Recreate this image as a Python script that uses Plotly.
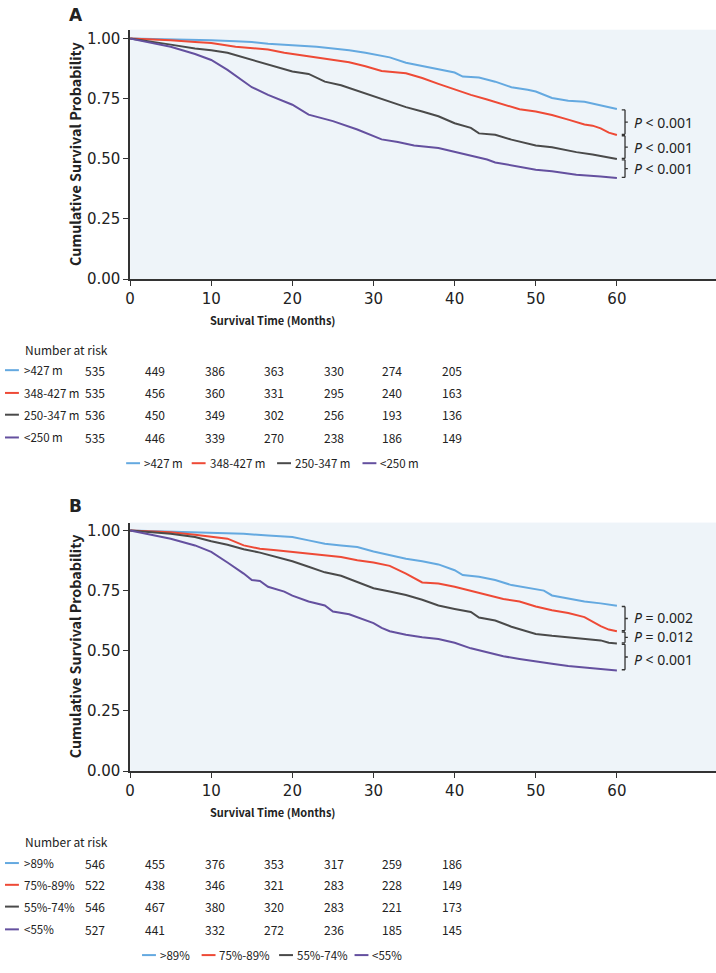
import plotly.graph_objects as go

W, H = 716, 973

# ---------------- data ----------------
# Panel A : 6-minute walk distance groups
A_groups = [">427 m", "348-427 m", "250-347 m", "<250 m"]
A_t_427 = [0, 5, 10, 13, 15, 17, 20, 23, 25, 27, 29, 30, 32, 34, 36, 38, 40, 41, 43, 45, 47, 49, 50, 52, 54, 56, 58, 60]
A_s_427 = [1.0, 0.997, 0.993, 0.989, 0.986, 0.979, 0.973, 0.966, 0.959, 0.952, 0.941, 0.934, 0.922, 0.900, 0.886, 0.870,
           0.859, 0.842, 0.838, 0.821, 0.798, 0.787, 0.780, 0.753, 0.742, 0.737, 0.721, 0.707]
A_t_348 = [0, 3, 5, 8, 10, 13, 15, 17, 19, 21, 23, 25, 27, 29, 30, 31, 34, 36, 38, 40, 42, 44, 46, 48, 50, 52, 54, 56, 57, 58, 59, 60]
A_s_348 = [1.0, 0.996, 0.993, 0.986, 0.982, 0.966, 0.959, 0.955, 0.941, 0.932, 0.921, 0.912, 0.902, 0.885, 0.876, 0.865,
           0.856, 0.836, 0.812, 0.788, 0.766, 0.747, 0.726, 0.706, 0.697, 0.682, 0.663, 0.643, 0.638, 0.627, 0.609, 0.599]
A_t_250 = [0, 3, 5, 8, 10, 12, 14, 16, 18, 20, 22, 24, 26, 28, 30, 32, 34, 36, 38, 40, 42, 43, 45, 47, 50, 52, 55, 57, 60]
A_s_250 = [1.0, 0.986, 0.975, 0.959, 0.952, 0.941, 0.922, 0.900, 0.883, 0.863, 0.853, 0.821, 0.806, 0.784, 0.760, 0.739,
           0.715, 0.697, 0.677, 0.648, 0.629, 0.606, 0.600, 0.580, 0.556, 0.548, 0.528, 0.518, 0.499]
A_t_lt = [0, 3, 5, 8, 10, 12, 14, 15, 17, 20, 22, 25, 28, 30, 31, 33, 35, 38, 40, 42, 44, 45, 47, 50, 52, 55, 58, 60]
A_s_lt = [1.0, 0.981, 0.966, 0.936, 0.911, 0.870, 0.822, 0.798, 0.766, 0.725, 0.684, 0.657, 0.622, 0.595, 0.581, 0.570,
          0.556, 0.545, 0.529, 0.512, 0.497, 0.485, 0.474, 0.455, 0.448, 0.434, 0.427, 0.420]
A_pvals = ["<i>P</i> < 0.001", "<i>P</i> < 0.001", "<i>P</i> < 0.001"]
A_risk = [[535, 449, 386, 363, 330, 274, 205],
          [535, 456, 360, 331, 295, 240, 163],
          [536, 450, 349, 302, 256, 193, 136],
          [535, 446, 339, 270, 238, 186, 149]]

# Panel B : percent-predicted groups
B_groups = [">89%", "75%-89%", "55%-74%", "<55%"]
B_t_89 = [0, 5, 10, 14, 17, 20, 22, 24, 26, 28, 30, 32, 34, 36, 38, 40, 41, 43, 45, 47, 49, 51, 52, 54, 56, 58, 60]
B_s_89 = [1.0, 0.996, 0.990, 0.986, 0.979, 0.973, 0.959, 0.945, 0.938, 0.931, 0.913, 0.897, 0.883, 0.872, 0.859, 0.835,
          0.815, 0.808, 0.794, 0.773, 0.760, 0.750, 0.730, 0.716, 0.705, 0.697, 0.687]
B_t_75 = [0, 3, 5, 8, 10, 12, 14, 16, 18, 20, 22, 24, 26, 28, 30, 32, 34, 36, 38, 40, 42, 44, 46, 48, 50, 52, 54, 56, 58, 59, 60]
B_s_75 = [1.0, 0.996, 0.993, 0.982, 0.973, 0.966, 0.938, 0.924, 0.918, 0.911, 0.904, 0.897, 0.890, 0.876, 0.867, 0.853,
          0.821, 0.784, 0.780, 0.766, 0.749, 0.735, 0.715, 0.705, 0.684, 0.668, 0.657, 0.640, 0.602, 0.588, 0.581]
B_t_55 = [0, 3, 5, 8, 10, 12, 14, 16, 18, 20, 22, 24, 26, 28, 30, 32, 34, 36, 38, 40, 42, 43, 45, 47, 49, 50, 52, 54, 56, 58, 59, 60]
B_s_55 = [1.0, 0.993, 0.986, 0.973, 0.955, 0.941, 0.922, 0.908, 0.890, 0.872, 0.849, 0.826, 0.812, 0.787, 0.760, 0.746,
          0.732, 0.712, 0.688, 0.674, 0.661, 0.638, 0.626, 0.600, 0.581, 0.570, 0.562, 0.556, 0.552, 0.543, 0.533, 0.530]
B_t_lt = [0, 3, 5, 8, 10, 12, 14, 15, 16, 17, 19, 20, 22, 24, 25, 27, 29, 30, 31, 32, 34, 36, 38, 40, 42, 44, 46, 48, 50, 52, 54, 56, 58, 60]
B_s_lt = [1.0, 0.979, 0.966, 0.938, 0.911, 0.867, 0.821, 0.794, 0.790, 0.766, 0.746, 0.729, 0.705, 0.688, 0.663, 0.652,
          0.629, 0.615, 0.595, 0.581, 0.567, 0.556, 0.549, 0.533, 0.510, 0.492, 0.477, 0.466, 0.455, 0.446, 0.437, 0.430,
          0.426, 0.418]
B_pvals = ["<i>P</i> = 0.002", "<i>P</i> = 0.012", "<i>P</i> < 0.001"]
B_risk = [[546, 455, 376, 353, 317, 259, 186],
          [522, 438, 346, 321, 283, 228, 149],
          [546, 467, 380, 320, 283, 221, 173],
          [527, 441, 332, 272, 236, 185, 145]]

x_ticks = [0, 10, 20, 30, 40, 50, 60]
y_ticks = [0, 0.25, 0.5, 0.75, 1.0]
y_ticktext = ["0.00", "0.25", "0.50", "0.75", "1.00"]

colors = ["#64A9E0", "#EE4A36", "#4A4A4A", "#64509F"]

# ---------------- helpers ----------------
def xp(px):
    return px / W


def yp(py):
    return 1 - py / H


TICK_FONT = dict(family="DejaVu Sans, Verdana, sans-serif", size=15, color="#222")
NARROW = "Noto Sans CJK SC, Roboto, sans-serif"
PFONT = "Noto Sans, Open Sans, sans-serif"
TXT = "#222"
TAB_SIZE = 11.5

fig = go.Figure()

panels = [
    dict(xa="x", ya="y", series=[(A_t_427, A_s_427), (A_t_348, A_s_348), (A_t_250, A_s_250), (A_t_lt, A_s_lt)],
         groups=A_groups, pvals=A_pvals, risk=A_risk, top=29, bottom=281, label="A", labely=14,
         xtitle_y=322, nar_y=352, row_y=[373, 396, 418, 441], leg_y=467,
         leg_keys=[122, 188, 274, 360], p_shift=[0, 0, 0]),
    dict(xa="x2", ya="y2", series=[(B_t_89, B_s_89), (B_t_75, B_s_75), (B_t_55, B_s_55), (B_t_lt, B_s_lt)],
         groups=B_groups, pvals=B_pvals, risk=B_risk, top=527, bottom=778, label="B", labely=510,
         xtitle_y=819, nar_y=849, row_y=[871, 893, 915, 938], leg_y=964,
         leg_keys=[138, 198, 276, 352], p_shift=[0.006, 0.004, -0.011]),
]

annotations = []
shapes = []
LEFT, RIGHT = 126, 716
px_per_month = 8.17
x_max = (RIGHT - LEFT) / px_per_month
risk_cols = [91, 151, 211, 271, 331, 390, 450]

for i, p in enumerate(panels):
    xa, ya = p["xa"], p["ya"]
    for (t, s), name, c in zip(p["series"], p["groups"], colors):
        fig.add_trace(go.Scatter(x=t, y=s, mode="lines", name=name, xaxis=xa, yaxis=ya,
                                 line=dict(color=c, width=2), showlegend=False))
    y_top = (p["bottom"] - p["top"]) / 243.0
    suffix = "" if i == 0 else "2"
    fig.layout["xaxis" + suffix] = dict(
        domain=[xp(LEFT), 1], range=[0, x_max], anchor=ya, tickvals=x_ticks,
        showline=True, linecolor="#333", linewidth=1.6, ticks="outside", ticklen=5, tickwidth=1.4,
        tickcolor="#333", showgrid=False, zeroline=False, tickfont=TICK_FONT, fixedrange=True)
    fig.layout["yaxis" + suffix] = dict(
        domain=[yp(p["bottom"]), yp(p["top"])], range=[0, y_top], anchor=xa, tickvals=y_ticks,
        ticktext=y_ticktext, showline=True, linecolor="#333", linewidth=1.6, ticks="outside", ticklen=5,
        tickwidth=1.4, tickcolor="#333", showgrid=False, zeroline=False, tickfont=TICK_FONT, fixedrange=True)

    # panel label
    annotations.append(dict(text="<b>%s</b>" % p["label"], x=xp(62), y=yp(p["labely"]), xref="paper", yref="paper",
                            xanchor="left", yanchor="middle", showarrow=False,
                            font=dict(family="DejaVu Sans, sans-serif", size=17, color=TXT)))
    # y title
    annotations.append(dict(text="<b>Cumulative Survival Probability</b>", x=xp(70),
                            y=yp((p["top"] + p["bottom"]) / 2), xref="paper", yref="paper", textangle=-90,
                            xanchor="center", yanchor="middle", showarrow=False,
                            font=dict(family=NARROW, size=14.3, color=TXT)))
    # x title
    annotations.append(dict(text="<b>Survival Time (Months)</b>", x=xp(270), y=yp(p["xtitle_y"]), xref="paper",
                            yref="paper", xanchor="center", yanchor="middle", showarrow=False,
                            font=dict(family=NARROW, size=11, color=TXT)))

    # brackets + p-values (from curve end values)
    ends = [s[-1] for (t, s) in p["series"]]
    xb_l, xb, xb_r, xtxt = 60.6, 61.0, 61.35, 61.95
    for k in range(3):
        y1 = ends[k] - 0.003
        y0 = ends[k + 1] + 0.003
        ym = (y0 + y1) / 2
        for (ax0, ay0, ax1, ay1) in [(xb, y0, xb, y1), (xb_l, y1, xb, y1), (xb_l, y0, xb, y0), (xb, ym, xb_r, ym)]:
            shapes.append(dict(type="line", xref=xa, yref=ya, x0=ax0, y0=ay0, x1=ax1, y1=ay1,
                               line=dict(color="#333", width=1.3)))
        annotations.append(dict(text=p["pvals"][k], x=xtxt, y=ym + p["p_shift"][k], xref=xa, yref=ya,
                                xanchor="left", yanchor="middle", showarrow=False, borderpad=0,
                                font=dict(family=PFONT, size=14, color=TXT)))

    # number at risk table
    annotations.append(dict(text="Number at risk", x=xp(18), y=yp(p["nar_y"]), xref="paper", yref="paper",
                            xanchor="left", yanchor="middle", showarrow=False,
                            font=dict(family=NARROW, size=TAB_SIZE + 0.5, color=TXT)))
    for r, (name, c, row) in enumerate(zip(p["groups"], colors, p["risk"])):
        ry = yp(p["row_y"][r])
        shapes.append(dict(type="line", xref="paper", yref="paper", x0=xp(0), x1=xp(14), y0=ry, y1=ry,
                           line=dict(color=c, width=2)))
        annotations.append(dict(text=name, x=xp(18), y=ry, xref="paper", yref="paper", xanchor="left",
                                yanchor="middle", showarrow=False, borderpad=0,
                                font=dict(family=NARROW, size=TAB_SIZE, color=TXT)))
        for cx, v in zip(risk_cols, row):
            annotations.append(dict(text=str(v), x=xp(cx), y=ry, xref="paper", yref="paper", xanchor="center",
                                    yanchor="middle", showarrow=False, borderpad=0,
                                    font=dict(family=NARROW, size=TAB_SIZE + 0.5, color=TXT)))

    # legend (manual, short keys)
    ly = yp(p["leg_y"])
    for kx, name, c in zip(p["leg_keys"], p["groups"], colors):
        shapes.append(dict(type="line", xref="paper", yref="paper", x0=xp(kx), x1=xp(kx + 14), y0=ly, y1=ly,
                           line=dict(color=c, width=2)))
        annotations.append(dict(text=name, x=xp(kx + 17), y=ly, xref="paper", yref="paper", xanchor="left",
                                yanchor="middle", showarrow=False, borderpad=0,
                                font=dict(family=NARROW, size=TAB_SIZE, color=TXT)))

fig.update_layout(
    width=W, height=H, margin=dict(l=0, r=0, t=0, b=0),
    paper_bgcolor="white", plot_bgcolor="#EEF4F9",
    showlegend=False, annotations=annotations, shapes=shapes,
)

fig.write_html("out.html", config={"displayModeBar": False},
               post_script="document.body.style.margin='0';document.body.style.padding='0';")
